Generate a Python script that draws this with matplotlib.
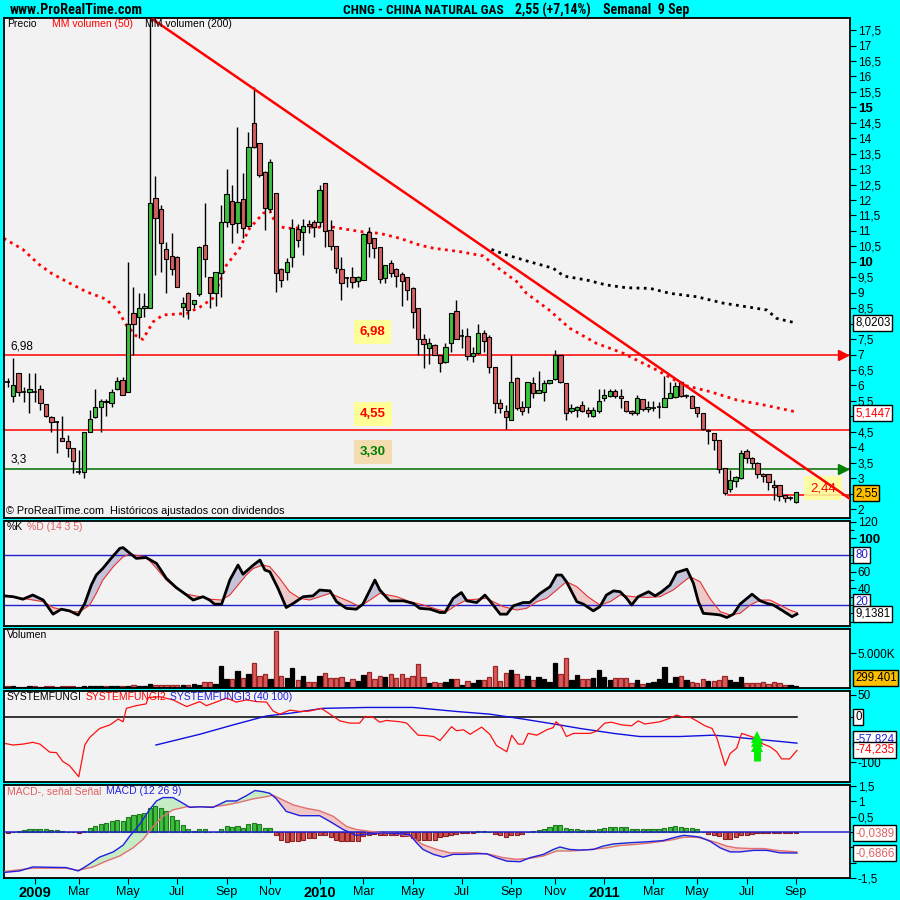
import numpy as np
import pandas as pd
import matplotlib
matplotlib.use("Agg")
import matplotlib.pyplot as plt
from matplotlib import font_manager

plt.rcParams['font.family'] = ['Liberation Sans', 'DejaVu Sans']
plt.rcParams['font.size'] = 8

# ---------------- data ----------------
first_week = '2008-12-01'   # weekly bars (Monday dates)
n_weeks = 145

opens = [6.12, 5.67, 6.39, 5.80, 5.78, 5.80, 5.90, 5.39, 4.99, 4.84,
         4.31, 4.21, 3.98, 3.20, 3.21, 4.48, 4.99, 5.29, 5.50, 5.42,
         5.90, 6.17, 5.78, 8.35, 8.22, 8.50, 8.50, 12.08, 11.70, 10.40,
         10.19, 10.14, 8.53, 9.00, 8.62, 8.96, 10.53, 9.50, 9.00, 9.63,
         11.30, 11.98, 11.25, 12.04, 11.16, 14.48, 13.83, 12.92, 11.70, 12.24,
         9.76, 9.66, 10.14, 11.05, 10.96, 11.24, 11.29, 11.30, 12.54, 11.03,
         10.51, 9.76, 9.49, 9.50, 9.38, 9.41, 10.98, 10.76, 10.49, 9.49,
         9.97, 9.76, 9.60, 9.50, 9.14, 8.50, 7.49, 7.20, 7.31, 7.00,
         6.77, 7.36, 8.42, 7.61, 7.60, 6.95, 7.06, 7.71, 7.58, 6.61,
         5.42, 5.18, 4.88, 6.23, 5.29, 5.29, 6.07, 5.74, 5.78, 6.07,
         6.20, 6.98, 6.07, 5.18, 5.22, 5.37, 5.22, 5.02, 5.18, 5.60,
         5.67, 5.82, 5.66, 5.50, 5.17, 5.10, 5.55, 5.23, 5.28, 5.30,
         5.31, 5.60, 5.61, 6.12, 5.67, 5.67, 5.29, 5.10, 4.53, 4.45,
         4.25, 3.32, 2.64, 2.92, 2.99, 3.88, 3.64, 3.50, 3.15, 3.13,
         2.78, 2.78, 2.45, 2.35, 2.24]
highs = [6.25, 6.88, 6.39, 5.96, 6.39, 6.39, 6.01, 5.39, 5.00, 4.85,
         5.01, 4.39, 3.98, 3.90, 4.48, 5.20, 5.90, 5.55, 5.55, 5.90,
         6.28, 6.28, 9.98, 9.20, 8.98, 8.98, 18.50, 12.78, 11.84, 10.65,
         10.92, 10.20, 8.87, 9.03, 8.76, 10.50, 11.91, 9.52, 9.68, 11.84,
         13.00, 12.49, 14.37, 12.88, 14.20, 15.67, 13.85, 12.95, 13.32, 12.24,
         9.80, 10.11, 11.37, 11.22, 11.37, 11.35, 11.35, 12.49, 12.56, 11.35,
         10.51, 10.17, 9.50, 9.84, 9.55, 10.92, 11.12, 10.76, 10.49, 9.90,
         10.05, 9.79, 9.68, 9.52, 9.20, 8.50, 7.66, 7.54, 7.34, 7.00,
         7.38, 8.33, 8.76, 7.81, 7.85, 7.25, 8.00, 7.79, 7.62, 6.61,
         5.55, 5.37, 7.00, 6.28, 5.50, 6.12, 6.26, 6.48, 6.17, 6.17,
         7.15, 6.99, 6.07, 5.40, 5.35, 5.50, 5.30, 5.30, 5.90, 5.90,
         5.90, 5.90, 5.90, 5.50, 5.20, 5.69, 5.55, 5.50, 5.50, 5.46,
         6.31, 6.12, 6.12, 6.15, 5.72, 5.69, 5.31, 5.12, 4.58, 4.47,
         4.25, 3.32, 3.26, 3.07, 3.91, 3.93, 3.69, 3.53, 3.17, 3.15,
         2.94, 2.78, 2.47, 2.42, 2.56]
lows = [5.95, 5.47, 5.66, 5.47, 5.10, 5.47, 5.20, 4.99, 4.50, 3.80,
        4.20, 3.69, 3.18, 3.15, 2.99, 4.48, 4.93, 4.50, 5.01, 5.30,
        5.85, 5.69, 5.78, 7.00, 7.52, 8.20, 8.50, 9.57, 9.68, 8.98,
        9.57, 9.17, 8.22, 8.14, 8.50, 8.90, 9.52, 8.50, 8.57, 8.87,
        11.14, 10.62, 10.92, 10.76, 11.14, 13.67, 12.75, 11.03, 11.62, 9.03,
        9.20, 9.41, 9.84, 10.49, 10.22, 10.92, 10.80, 11.14, 10.49, 10.38,
        9.63, 8.76, 9.20, 9.15, 9.20, 9.41, 10.14, 10.11, 9.30, 9.30,
        9.52, 9.20, 8.57, 8.76, 7.85, 6.98, 6.57, 6.68, 7.00, 6.44,
        6.74, 7.09, 7.49, 7.22, 6.82, 6.77, 7.03, 7.09, 6.41, 5.10,
        5.10, 4.59, 4.88, 5.20, 5.04, 5.10, 5.60, 5.74, 5.50, 6.05,
        6.18, 6.08, 4.88, 5.12, 4.99, 5.15, 4.99, 4.99, 5.10, 5.48,
        5.64, 5.60, 5.28, 5.15, 5.04, 5.04, 5.18, 5.15, 5.18, 4.96,
        5.31, 5.58, 5.58, 5.61, 5.58, 5.26, 4.99, 4.56, 4.10, 3.91,
        3.18, 2.45, 2.56, 2.72, 2.96, 3.50, 3.32, 2.99, 2.88, 2.61,
        2.29, 2.26, 2.24, 2.30, 2.18]
closes = [6.10, 6.03, 5.78, 5.78, 5.90, 5.78, 5.42, 5.01, 4.83, 4.82,
          4.21, 3.98, 3.56, 3.20, 4.48, 4.90, 5.29, 5.50, 5.45, 5.78,
          6.14, 5.69, 7.98, 7.98, 8.50, 8.58, 11.90, 11.41, 10.62, 10.08,
          9.76, 9.17, 8.68, 8.44, 8.76, 10.49, 10.08, 8.98, 9.68, 11.30,
          12.19, 11.22, 11.95, 11.08, 13.70, 13.70, 12.80, 11.73, 13.24, 9.65,
          9.41, 10.00, 11.08, 10.70, 11.16, 11.16, 11.14, 12.32, 11.01, 10.51,
          9.79, 9.32, 9.49, 9.36, 9.52, 10.89, 10.62, 10.44, 9.46, 9.90,
          9.65, 9.54, 9.39, 9.09, 8.39, 7.49, 7.34, 7.36, 7.00, 6.71,
          7.25, 8.33, 7.49, 7.61, 6.95, 7.06, 7.69, 7.45, 6.61, 5.42,
          5.26, 4.99, 6.12, 5.26, 5.18, 6.12, 5.74, 5.85, 6.07, 6.17,
          6.98, 6.12, 5.10, 5.28, 5.31, 5.18, 5.10, 5.20, 5.50, 5.69,
          5.82, 5.67, 5.58, 5.18, 5.10, 5.58, 5.23, 5.31, 5.28, 5.30,
          5.60, 5.74, 5.99, 5.66, 5.67, 5.28, 5.10, 4.58, 4.53, 4.25,
          3.28, 2.53, 2.94, 3.05, 3.82, 3.64, 3.48, 3.13, 3.07, 2.88,
          2.72, 2.42, 2.37, 2.35, 2.55]
volumes_k = [240, 260, 210, 190, 230, 250, 200, 220, 240, 210,
             230, 250, 260, 200, 240, 220, 230, 250, 240, 260,
             280, 300, 330, 360, 330, 350, 570, 430, 450, 430,
             420, 440, 400, 450, 520, 500, 900, 900, 600, 3140,
             1285, 1240, 2430, 1380, 1950, 3570, 1670, 1950, 1240, 8140,
             1670, 1380, 2800, 1140, 1710, 810, 810, 1710, 2100, 1380,
             1380, 1520, 810, 1240, 1050, 1860, 2240, 1240, 1710, 1520,
             1950, 1380, 1950, 1380, 1760, 3380, 1520, 760, 810, 670,
             810, 1240, 1240, 480, 1000, 670, 1140, 1140, 1520, 3140,
             1000, 2100, 2570, 1950, 1240, 1710, 1140, 1520, 1240, 900,
             3570, 1950, 4240, 1140, 1860, 1240, 1240, 1380, 2570, 1620,
             1140, 1380, 1380, 1380, 670, 1140, 520, 670, 900, 1240,
             2950, 670, 1520, 1760, 1140, 900, 760, 1240, 1050, 1050,
             1140, 1710, 1140, 900, 1520, 760, 670, 670, 810, 520,
             900, 670, 430, 430, 300]
macd_hist = [-0.04, 0.0, 0.04, 0.07, 0.10, 0.10, 0.10, 0.10, 0.08, 0.08,
             0.04, 0.0, 0.0, -0.03, 0.04, 0.13, 0.20, 0.27, 0.29, 0.37,
             0.40, 0.37, 0.49, 0.56, 0.59, 0.63, 0.77, 0.85, 0.77, 0.69,
             0.53, 0.40, 0.24, 0.11, 0.04, 0.10, 0.10, 0.0, 0.0, 0.10,
             0.18, 0.16, 0.18, 0.13, 0.26, 0.29, 0.26, 0.13, 0.13, -0.11,
             -0.26, -0.32, -0.30, -0.30, -0.25, -0.19, -0.19, -0.11, -0.11, -0.17,
             -0.25, -0.30, -0.30, -0.28, -0.28, -0.14, -0.09, -0.07, -0.09, -0.11,
             -0.11, -0.11, -0.14, -0.14, -0.19, -0.25, -0.27, -0.27, -0.25, -0.17,
             -0.14, -0.09, -0.07, -0.04, -0.04, -0.03, 0.04, 0.04, 0.0, -0.06,
             -0.11, -0.16, -0.11, -0.09, -0.06, 0.0, 0.04, 0.07, 0.11, 0.15,
             0.23, 0.23, 0.13, 0.11, 0.10, 0.08, 0.08, 0.08, 0.11, 0.13,
             0.15, 0.16, 0.17, 0.15, 0.11, 0.11, 0.11, 0.11, 0.11, 0.11,
             0.13, 0.15, 0.18, 0.15, 0.13, 0.13, 0.10, 0.0, -0.06, -0.09,
             -0.14, -0.22, -0.22, -0.17, -0.11, -0.09, -0.07, -0.05, -0.04, -0.04,
             -0.04, -0.04, -0.04, -0.04, -0.04]

# moving averages on price chart (bar position, value)
ma50_pts = [(-0.7, 10.76), (2.8, 10.40), (5.7, 9.92), (8.0, 9.63), (11.0, 9.34), (14.4, 9.03),
            (18.0, 8.79), (20.2, 8.42), (21.7, 7.95), (23.5, 7.60), (24.7, 7.49), (26.6, 8.06),
            (28.4, 8.28), (32.7, 8.33), (35.1, 8.53), (37.5, 8.82), (38.4, 9.20), (40.0, 9.90),
            (42.4, 10.44), (44.2, 11.08), (46.7, 11.57), (47.9, 11.65), (49.1, 11.19), (50.9, 11.08),
            (55.2, 11.12), (59.5, 11.12), (64.4, 10.98), (68.0, 10.92), (71.7, 10.76), (75.3, 10.54),
            (77.8, 10.44), (82.6, 10.33), (86.9, 10.19), (89.3, 9.84), (93.0, 9.36), (94.8, 8.98),
            (98.8, 8.46), (102.7, 7.85), (107.6, 7.36), (112.5, 7.04), (115.5, 6.77), (118.6, 6.50),
            (123.5, 6.01), (128.3, 5.80), (133.2, 5.53), (138.1, 5.37), (144.0, 5.1447)]
ma200_pts = [(88.4, 10.40), (91.2, 10.22), (95.4, 10.00), (99.7, 9.79), (101.6, 9.54), (105.8, 9.41),
             (109.4, 9.25), (113.1, 9.16), (117.4, 9.14), (121.0, 8.98), (125.9, 8.87), (130.8, 8.66),
             (135.6, 8.53), (138.7, 8.44), (140.5, 8.17), (144.0, 8.0203)]
trend_pts = [(26.5, 17.85), (153.9, 2.33)]
levels = [6.98, 4.55, 3.30]
level_colors = ['#FF0000', '#FF0000', '#007000']
level_labels = ['6,98', '4,55', '3,30']
support = 2.44
support_start = 131.6

# stochastic %K / %D
stoch_k = [(-0.7, 31), (1.0, 30), (2.8, 27), (4.6, 32), (6.5, 26), (8.3, 9), (9.8, 15), (11.3, 13),
           (12.9, 8), (14.1, 22), (15.3, 44), (16.2, 56), (17.4, 64), (18.9, 76), (20.5, 88), (21.1, 89),
           (22.0, 84), (23.5, 76), (25.3, 77), (27.2, 70), (29.0, 52), (30.8, 41), (32.7, 32), (33.9, 26),
           (35.7, 30), (36.9, 26), (37.8, 21), (39.1, 21), (40.6, 50), (42.1, 68), (43.0, 57), (44.9, 68),
           (46.1, 74), (47.0, 62), (47.9, 60), (49.4, 40), (50.9, 17), (52.2, 22), (54.0, 30), (55.8, 31),
           (57.0, 38), (58.9, 37), (60.1, 24), (61.9, 16), (63.7, 15), (64.9, 21), (66.2, 38), (67.1, 50),
           (68.0, 38), (69.8, 25), (72.3, 25), (74.1, 22), (75.3, 16), (77.2, 15), (79.0, 11), (79.9, 11),
           (81.4, 28), (82.9, 35), (83.9, 25), (85.7, 23), (87.2, 32), (88.1, 25), (90.0, 9), (91.2, 9),
           (92.4, 19), (94.2, 23), (95.4, 23), (97.3, 34), (99.1, 42), (100.3, 56), (101.2, 56), (102.1, 48),
           (104.0, 24), (105.2, 21), (107.0, 13), (108.2, 18), (109.4, 32), (110.7, 37), (111.9, 36),
           (113.1, 28), (114.0, 20), (115.2, 30), (117.1, 36), (118.3, 31), (119.5, 36), (121.0, 44),
           (122.2, 59), (124.1, 63), (125.3, 46), (126.2, 24), (127.1, 10), (128.9, 9), (130.2, 8),
           (131.4, 5), (132.6, 9), (133.8, 21), (136.0, 33), (137.5, 25), (138.7, 22), (139.9, 20),
           (141.4, 14), (143.3, 6), (144.2, 9.14)]
stoch_d = [(-0.7, 32), (2.8, 28), (6.5, 24), (8.3, 17), (11.3, 12), (13.2, 12), (15.0, 20), (16.2, 34),
           (17.4, 50), (19.3, 66), (21.1, 78), (22.3, 81), (24.1, 79), (25.3, 78), (27.2, 64), (29.0, 50),
           (30.8, 40), (32.7, 33), (35.1, 30), (36.9, 27), (39.1, 26), (40.6, 32), (42.1, 44), (43.6, 56),
           (44.9, 64), (46.7, 68), (47.9, 66), (49.7, 52), (51.5, 36), (53.4, 28), (55.2, 26), (58.9, 34),
           (62.5, 24), (64.3, 18), (66.2, 26), (68.0, 34), (71.1, 30), (73.5, 24), (76.0, 20), (78.4, 15),
           (80.2, 12), (82.0, 20), (83.9, 26), (87.5, 28), (88.7, 24), (90.6, 18), (93.0, 14), (94.8, 16),
           (96.7, 24), (98.5, 28), (100.3, 38), (102.1, 48), (104.0, 42), (106.0, 30), (108.2, 20),
           (110.1, 24), (111.9, 32), (114.3, 30), (116.7, 29), (119.2, 30), (121.6, 38), (123.5, 48),
           (124.7, 54), (126.5, 48), (128.3, 28), (130.2, 12), (132.0, 8), (133.8, 10), (135.7, 20),
           (137.5, 26), (139.3, 26), (141.1, 20), (142.9, 14), (144.2, 11)]

# SYSTEMFUNGI2 (red) / SYSTEMFUNGI3 (blue)
sf2 = [(-0.7, -58), (1.0, -62), (2.8, -60), (4.6, -56), (5.9, -60), (7.7, -78), (8.9, -79), (10.1, -99),
       (11.3, -108), (13.0, -133), (14.1, -62), (15.0, -45), (16.8, -25), (18.7, -17), (20.2, -4),
       (21.1, -10), (21.7, 20), (23.5, 26), (25.3, 30), (25.7, 44), (27.8, 46), (30.2, 39), (32.7, 24),
       (35.1, 35), (36.3, 26), (38.1, 34), (40.0, 43), (41.8, 34), (43.6, 39), (45.5, 35), (47.3, 34),
       (48.5, 14), (49.7, 7), (51.6, 16), (53.4, 13), (55.2, 14), (57.3, 20), (58.9, 7), (60.7, -8),
       (62.5, -13), (64.3, -13), (65.3, 2), (66.8, 0), (68.0, -11), (69.2, -7), (71.7, -10), (72.9, -13),
       (75.0, -40), (76.5, -41), (77.8, -43), (79.0, -52), (81.1, -21), (82.0, -30), (83.3, -28),
       (84.5, -38), (86.6, -22), (88.1, -38), (89.3, -63), (91.2, -77), (92.1, -40), (93.3, -60),
       (94.2, -60), (95.1, -36), (96.7, -40), (98.5, -28), (99.7, -23), (100.2, -10), (101.2, -21),
       (102.1, -43), (103.4, -36), (106.4, -36), (107.6, -31), (109.1, -13), (110.3, -11), (112.2, -17),
       (114.0, -19), (115.2, -8), (116.4, -15), (119.2, -10), (121.0, -2), (122.2, 5), (123.5, 0),
       (124.7, 0), (125.9, -8), (127.4, -19), (128.7, -25), (129.6, -47), (130.5, -84), (131.1, -108),
       (132.0, -81), (133.2, -69), (134.1, -36), (136.3, -45), (137.5, -57), (139.3, -66), (140.5, -77),
       (141.4, -93), (142.9, -93), (144.2, -74.2)]
sf3 = [(27.1, -62), (35.1, -38), (41.2, -17), (47.3, 3), (51.6, 9), (57.6, 20), (65.6, 22), (74.1, 22),
       (82.0, 13), (88.1, 7), (94.2, -4), (100.3, -16), (104.6, -25), (110.7, -36), (115.5, -43),
       (122.8, -43), (128.9, -40), (132.0, -43), (135.0, -47), (141.1, -54), (144.2, -57.8)]
signal_arrow = (137.0, -97, -40)

# MACD line (blue) and signal (red)
macd_line = [(-0.7, -1.32), (2.2, -1.27), (4.6, -1.14), (10.7, -1.16), (12.9, -1.27), (14.4, -1.11),
             (16.8, -0.82), (19.3, -0.65), (21.1, -0.43), (22.3, -0.14), (24.1, 0.24), (25.9, 0.72),
             (27.2, 1.01), (28.4, 1.12), (30.2, 1.12), (31.7, 0.97), (33.3, 0.80), (35.1, 0.82),
             (37.5, 0.80), (40.0, 1.01), (41.8, 1.01), (43.6, 1.18), (45.2, 1.35), (46.7, 1.31),
             (47.9, 1.26), (49.1, 1.08), (50.9, 0.67), (53.4, 0.53), (57.0, 0.53), (58.9, 0.34),
             (61.3, 0.08), (63.7, -0.11), (66.2, -0.06), (68.6, -0.03), (71.1, -0.05), (73.5, -0.09),
             (74.7, -0.35), (75.9, -0.57), (77.8, -0.73), (79.6, -0.82), (81.4, -0.73), (83.3, -0.73),
             (85.7, -0.71), (87.5, -0.71), (89.3, -0.84), (91.2, -0.95), (93.6, -0.97), (95.4, -0.84),
             (97.9, -0.73), (99.7, -0.57), (100.9, -0.49), (102.7, -0.57), (104.6, -0.59), (107.0, -0.57),
             (108.8, -0.46), (110.7, -0.39), (113.7, -0.35), (116.8, -0.32), (119.8, -0.28), (121.6, -0.19),
             (123.5, -0.11), (125.3, -0.14), (126.5, -0.17), (128.3, -0.30), (130.2, -0.52), (132.0, -0.65),
             (133.8, -0.65), (136.3, -0.60), (138.7, -0.60), (141.1, -0.68), (144.2, -0.6866)]
macd_signal = [(-0.7, -1.29), (4.6, -1.18), (10.7, -1.18), (12.9, -1.25), (15.6, -1.14), (18.0, -0.95),
               (20.5, -0.78), (22.9, -0.52), (24.7, -0.25), (26.6, 0.18), (28.4, 0.51), (30.2, 0.72),
               (32.7, 0.82), (37.5, 0.82), (40.0, 0.88), (42.4, 0.97), (44.9, 1.08), (47.3, 1.15),
               (48.5, 1.20), (50.3, 1.04), (52.2, 0.88), (54.6, 0.77), (57.0, 0.69), (59.5, 0.51),
               (61.9, 0.18), (63.7, 0.08), (66.2, 0.02), (68.6, -0.03), (71.1, -0.05), (73.5, -0.14),
               (75.9, -0.41), (78.4, -0.57), (80.8, -0.68), (85.7, -0.68), (88.1, -0.73), (90.6, -0.84),
               (93.0, -0.89), (95.4, -0.86), (97.9, -0.78), (100.3, -0.62), (102.7, -0.62), (104.6, -0.60),
               (109.4, -0.52), (111.9, -0.44), (114.3, -0.41), (116.8, -0.37), (119.8, -0.30), (121.6, -0.25),
               (123.5, -0.17), (125.9, -0.17), (127.7, -0.25), (129.6, -0.35), (131.4, -0.46), (133.2, -0.52),
               (135.7, -0.54), (138.1, -0.54), (140.5, -0.60), (144.2, -0.65)]

tick_labels = ['2009', 'Mar', 'May', 'Jul', 'Sep', 'Nov',
               '2010', 'Mar', 'May', 'Jul', 'Sep', 'Nov',
               '2011', 'Mar', 'May', 'Jul', 'Sep']
tick_months = [1, 3, 5, 7, 9, 11]

header_texts = ['www.ProRealTime.com', 'CHNG - CHINA NATURAL GAS', '2,55 (+7,14%)', 'Semanal  9 Sep']

# ---------------- styling ----------------
BG = '#00FFFF'
PANEL = '#F2F2F2'
GREEN = '#3DC03D'
RED = '#D45F5F'
XMIN, XMAX = -0.75, 153.9

_names = {f.name for f in font_manager.fontManager.ttflist}
HEAD_FAMILY = ['Liberation Sans']
for cand in ['Liberation Sans Narrow', 'DejaVu Sans Condensed', 'Roboto Condensed', 'Open Sans Condensed']:
    if cand in _names:
        HEAD_FAMILY = [cand, 'Liberation Sans']
        break

fig = plt.figure(figsize=(9, 9), dpi=100, facecolor=BG)
LPX, RPX = 3.5, 850


def panel(top, bottom):
    ax = fig.add_axes([LPX / 900, 1 - bottom / 900, (RPX - LPX) / 900, (bottom - top) / 900])
    ax.set_facecolor(PANEL)
    for s in ax.spines.values():
        s.set_linewidth(1.3)
        s.set_color('black')
    ax.set_xlim(XMIN, XMAX)
    ax.yaxis.tick_right()
    ax.tick_params(axis='y', direction='out', length=4, width=0.8, pad=1.5, labelsize=8.5)
    ax.tick_params(axis='x', bottom=False, labelbottom=False)
    return ax


def fmt(v):
    return ('%g' % v).replace('.', ',')


def ftext(x, y, s, **kw):
    return fig.text(x / 900, 1 - y / 900, s, **kw)


def unzip(pts):
    return np.array([p[0] for p in pts]), np.array([p[1] for p in pts])


def set_right_labels(ax, ticks, hidden=(), bold=()):
    ax.set_yticks(ticks)
    ax.set_yticklabels(['' if v in hidden else fmt(v) for v in ticks])
    for t, v in zip(ax.get_yticklabels(), ticks):
        if v in bold:
            t.set_fontweight('bold')
            t.set_fontsize(9.5)


idx = np.arange(n_weeks)
o = np.array(opens); h = np.array(highs); l = np.array(lows); c = np.array(closes)
up = c >= o

# ---------------- price panel ----------------
axp = panel(18, 518)
axp.set_ylim(1.71, 17.89)
set_right_labels(axp, list(np.arange(2, 17.51, 0.5)), hidden=(8.0, 5.0, 2.5), bold=(10.0, 15.0))

for lv, lc in zip(levels, level_colors):
    axp.axhline(lv, color=lc, lw=1.1, zorder=1)
axp.plot([support_start, XMAX], [support, support], color='#FF0000', lw=1.1, zorder=1)

axp.vlines(idx, l, h, color='black', lw=1.0, zorder=3)
body = np.abs(c - o)
real = body >= 0.04
axp.bar(idx[real], body[real], bottom=np.minimum(o, c)[real], width=0.78,
        color=np.where(up, GREEN, RED)[real], edgecolor='black', linewidth=0.8, zorder=4)
doji = ~real
axp.hlines(c[doji], idx[doji] - 0.42, idx[doji] + 0.42, color='black', lw=1.2, zorder=4)

mx, my = unzip(ma50_pts)
axp.plot(mx, my, color='#FF0000', lw=2.0, linestyle=(0, (1, 1.6)), zorder=2)
mx, my = unzip(ma200_pts)
axp.plot(mx, my, color='black', lw=2.0, linestyle=(0, (1, 1.6)), zorder=2)
tx, ty = unzip(trend_pts)
axp.plot(tx, ty, color='#FF0000', lw=1.8, zorder=5)

axp.plot([152.6], [levels[0]], marker='>', color='#FF0000', markersize=7, zorder=6, clip_on=False)
axp.plot([152.6], [levels[2]], marker='>', color='#008000', markersize=7, zorder=6, clip_on=False)

box_x = 66.7
for lv, lab, tcol, bcol, yoff in zip(levels, level_labels, ['#FF0000', '#FF0000', '#008000'],
                                     ['#FFFF99', '#FFFF99', '#F5DCB0'], [0.75, 0.52, 0.54]):
    axp.text(box_x, lv + yoff, lab, color=tcol, fontsize=9.5, fontweight='bold',
             ha='center', va='center', zorder=6,
             bbox=dict(boxstyle='square,pad=0.45', fc=bcol, ec='none'))
axp.text(149.0, support + 0.24, '2,44', color='#FF0000', fontsize=9.5, ha='center', va='center',
         zorder=4, bbox=dict(boxstyle='square,pad=0.45', fc='#FFFF99', ec='none', alpha=0.85))
axp.text(0.5, levels[0] + 0.1, '6,98', fontsize=8.5, ha='left', va='bottom', zorder=6)
axp.text(0.5, levels[2] + 0.1, '3,3', fontsize=8.5, ha='left', va='bottom', zorder=6)

# ---------------- stochastic ----------------
axs = panel(521, 626)
axs.set_ylim(-5.2, 120.9)
set_right_labels(axs, [0, 20, 40, 60, 80, 100, 120], hidden=(0, 20, 80), bold=(100,))
axs.set_yticks(np.arange(0, 121, 10), minor=True)
axs.tick_params(axis='y', which='minor', direction='out', length=3, width=0.8)
axs.axhline(80, color='#2020D0', lw=1.0)
axs.axhline(20, color='#2020D0', lw=1.0)
kx, kv = unzip(stoch_k)
dx, dv = unzip(stoch_d)
grid = np.linspace(-0.7, 144.2, 1500)
kk = np.interp(grid, kx, kv)
dd = np.interp(grid, dx, dv)
axs.fill_between(grid, kk, dd, where=kk >= dd, interpolate=True, color='#C3C3DA', lw=0)
axs.fill_between(grid, kk, dd, where=kk < dd, interpolate=True, color='#EDCACA', lw=0)
axs.plot(dx, dv, color='#E83030', lw=0.8)
axs.plot(kx, kv, color='black', lw=2.0)

# ---------------- volume ----------------
axv = panel(629, 688)
axv.set_ylim(0, 8430)
axv.set_yticks([5000])
axv.set_yticklabels(['5.000K'])
vol = np.array(volumes_k)
axv.bar(idx, vol, width=0.8, color=np.where(up, 'black', '#D85A5A'),
        edgecolor=np.where(up, 'black', '#9A2525'), linewidth=0.9)

# ---------------- SYSTEMFUNGI ----------------
axf = panel(691, 782)
axf.set_ylim(-144.7, 58.8)
set_right_labels(axf, [50, 0, -100], hidden=(0,))
axf.plot([XMIN, 144.2], [0, 0], color='black', lw=1.1)
fx, fv = unzip(sf3)
axf.plot(fx, fv, color='#1010E0', lw=1.0)
fx, fv = unzip(sf2)
axf.plot(fx, fv, color='#FF1010', lw=0.9)
ax_x, ay0, ay1 = signal_arrow
axf.plot([ax_x, ax_x], [ay0, ay1 - 18], color='#00EE00', lw=5, solid_capstyle='butt')
for yy in (ay1 - 4, ay1 - 14, ay1 - 24):
    axf.plot([ax_x], [yy], marker='^', color='#00EE00', markersize=9, markeredgewidth=0)

# ---------------- MACD ----------------
axm = panel(785, 878)
axm.set_ylim(-1.47, 1.53)
set_right_labels(axm, [1.5, 1, 0.5, 0, -0.5, -1, -1.5], hidden=(0, -0.5, -1))
axm.axhline(0, color='#2020D0', lw=1.1, zorder=3)
hist = np.array(macd_hist)
pos = hist >= 0
axm.bar(idx, hist, width=0.74, color=np.where(pos, '#3EC03E', '#D05050'),
        edgecolor=np.where(pos, '#1F7A1F', '#8A2020'), linewidth=0.8, zorder=2)
mx, mv = unzip(macd_line)
sx, sv = unzip(macd_signal)
mm = np.interp(grid, mx, mv)
ss = np.interp(grid, sx, sv)
axm.fill_between(grid, mm, ss, where=mm >= ss, interpolate=True, color='#C6ECC6', lw=0, zorder=1)
axm.fill_between(grid, mm, ss, where=mm < ss, interpolate=True, color='#F0C6C6', lw=0, zorder=1)
axm.plot(sx, sv, color='#E07070', lw=1.0, zorder=4)
axm.plot(mx, mv, color='#2020E0', lw=1.0, zorder=4)

dates = pd.date_range(first_week, periods=n_weeks, freq='7D')
tick_pos = [i for i in range(1, n_weeks)
            if dates[i].month != dates[i - 1].month and dates[i].month in tick_months]
axm.tick_params(axis='x', bottom=True, labelbottom=True, direction='out', length=4, width=0.8,
                pad=1.5, labelsize=9)
axm.set_xticks(tick_pos)
axm.set_xticklabels(tick_labels[:len(tick_pos)])
for t in axm.get_xticklabels():
    if t.get_text().isdigit():
        t.set_fontweight('bold'); t.set_fontsize(10.5)

# ---------------- texts ----------------
# header: each piece sized so that it spans the same width as in the reference
head_x = [10, 343, 515, 603]
head_w = [133, 160, 76, 86]
renderer = fig.canvas.get_renderer()
for s, x0, wpx in zip(header_texts, head_x, head_w):
    t = ftext(x0, 10, s, fontsize=10, va='center', ha='left', family=HEAD_FAMILY, fontweight='bold')
    w = t.get_window_extent(renderer=renderer).width
    t.set_fontsize(min(10.5, 10 * wpx / w))

ftext(7, 24, 'Precio', fontsize=7.5, va='center')
ftext(52, 24, 'MM volumen (50)', fontsize=7.5, va='center', color='#FF0000')
ftext(145, 24, 'MM volumen (200)', fontsize=7.5, va='center', color='black')
ftext(6, 511, '\u00a9 ProRealTime.com  Hist\u00f3ricos ajustados con dividendos', fontsize=7.8, va='center')
ftext(7, 527, '%K', fontsize=7.5, va='center')
ftext(27, 527, '%D (14 3 5)', fontsize=7.5, va='center', color='#E06060')
ftext(7, 635, 'Volumen', fontsize=7.5, va='center')
ftext(7, 697, 'SYSTEMFUNGI', fontsize=7.5, va='center')
ftext(86, 697, 'SYSTEMFUNGI2', fontsize=7.5, va='center', color='#FF0000')
ftext(170, 697, 'SYSTEMFUNGI3 (40 100)', fontsize=7.5, va='center', color='#2020E0')
ftext(7, 791, 'MACD-, se\u00f1al Se\u00f1al', fontsize=7.5, va='center', color='#E06060')
ftext(106, 791, 'MACD (12 26 9)', fontsize=7.5, va='center', color='#2020E0')


def vbox(y, s, tc='black', fc='white', ec='black', x=855):
    ftext(x, y, s, fontsize=8.3, color=tc, va='center', ha='left',
          bbox=dict(boxstyle='square,pad=0.15', fc=fc, ec=ec, lw=1.0))


vbox(323, '8,0203')
vbox(413, '5,1447', tc='#FF0000')
vbox(493, '2,55', fc='#FFC000')
vbox(555, '80', tc='#2020D0')
vbox(602, '20', tc='#2020D0')
vbox(614, '9,1381')
vbox(678, '299.401', fc='#FFC000')
vbox(717, '0')
vbox(739, '-57,824', tc='#2020E0')
vbox(750, '-74,235', tc='#FF0000')
vbox(833, '-0,0389', tc='#E06060')
vbox(853, '-0,6866', tc='#E06060')

fig.savefig('out.png', dpi=100, facecolor=BG)
